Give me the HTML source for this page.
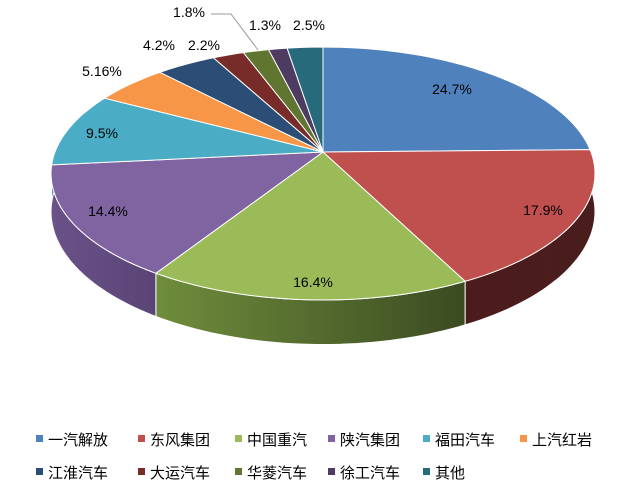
<!DOCTYPE html>
<html><head><meta charset="utf-8"><style>
html,body{margin:0;padding:0;background:#fff;width:643px;height:497px;overflow:hidden}
svg{display:block}
text{font-family:"Liberation Sans","Noto Sans CJK SC",sans-serif}
</style></head><body>
<svg id="s" width="643" height="497" viewBox="0 0 643 497" xmlns="http://www.w3.org/2000/svg">
<defs>
<linearGradient id="gg" x1="0" x2="1" y1="0" y2="0"><stop offset="0" stop-color="#6f8d3c"/><stop offset="1" stop-color="#3b4b21"/></linearGradient>
<linearGradient id="gp" x1="0" x2="1" y1="0" y2="0"><stop offset="0" stop-color="#6a5289"/><stop offset="1" stop-color="#5a4475"/></linearGradient>
<linearGradient id="gr" x1="0" x2="1" y1="0" y2="0"><stop offset="0" stop-color="#4c1c1c"/><stop offset="1" stop-color="#4a1d1d"/></linearGradient>
</defs>
<g id="pie"></g>
<g font-size="14" fill="#000" text-anchor="middle">
<text x="452" y="94">24.7%</text>
<text x="543" y="215">17.9%</text>
<text x="313" y="287">16.4%</text>
<text x="108" y="216">14.4%</text>
<text x="102" y="138">9.5%</text>
<text x="102" y="76">5.16%</text>
<text x="159" y="50">4.2%</text>
<text x="204" y="50">2.2%</text>
<text x="189" y="17">1.8%</text>
<text x="265" y="30">1.3%</text>
<text x="309" y="30">2.5%</text>
</g>
<polyline points="211,14 231,14 258,50" fill="none" stroke="#999" stroke-width="1"/>
<g font-size="15" fill="#000">
<rect x="36" y="435" width="7" height="7" fill="#4F81BD"/><text x="48" y="445">一汽解放</text>
<rect x="138" y="435" width="7" height="7" fill="#C0504D"/><text x="150" y="445">东风集团</text>
<rect x="235" y="435" width="7" height="7" fill="#9BBB59"/><text x="247" y="445">中国重汽</text>
<rect x="328" y="435" width="7" height="7" fill="#8064A2"/><text x="340" y="445">陕汽集团</text>
<rect x="423" y="435" width="7" height="7" fill="#4BACC6"/><text x="435" y="445">福田汽车</text>
<rect x="520" y="435" width="7" height="7" fill="#F79646"/><text x="532" y="445">上汽红岩</text>
<rect x="36" y="468" width="7" height="7" fill="#2C4D75"/><text x="48" y="478">江淮汽车</text>
<rect x="138" y="468" width="7" height="7" fill="#772C2A"/><text x="150" y="478">大运汽车</text>
<rect x="235" y="468" width="7" height="7" fill="#5F7530"/><text x="247" y="478">华菱汽车</text>
<rect x="328" y="468" width="7" height="7" fill="#4D3B62"/><text x="340" y="478">徐工汽车</text>
<rect x="423" y="468" width="7" height="7" fill="#276A7C"/><text x="435" y="478">其他</text>
</g>
</svg>
<script>
var vals=[24.7,17.9,16.4,14.4,9.5,5.16,4.2,2.2,1.8,1.3,2.5];
var cols=["#4F81BD","#C0504D","#9BBB59","#8064A2","#4BACC6","#F79646","#2C4D75","#772C2A","#5F7530","#4D3B62","#276A7C"];
var sides=["#3a5f8c","url(#gr)","url(#gg)","url(#gp)","#37808f","#b56e34","#203955","#571f1e","#465623","#382b48","#1c4e5b"];
var cx=323,cy=152,a=122.8,b=268,k=0.17,h=37;
var tot=0;vals.forEach(function(v){tot+=v});
function P(t,dz){var X=Math.sin(t),Z=-Math.cos(t),d=1-k*Z;return [cx+b*X/d,cy+a*Z/d+(dz?h/d:0)];}
var g=document.getElementById('pie'),NS="http://www.w3.org/2000/svg";
function path(d,f){var p=document.createElementNS(NS,'path');p.setAttribute('d',d);p.setAttribute('fill',f);p.setAttribute('stroke','#fff');p.setAttribute('stroke-width','1');p.setAttribute('stroke-linejoin','round');g.appendChild(p);}
var ang=[],s=0;vals.forEach(function(v){var t0=s/tot*2*Math.PI;s+=v;ang.push([t0,s/tot*2*Math.PI]);});
var lo=Math.PI*0.47,hi=Math.PI*1.53;
ang.forEach(function(r,i){var t0=Math.max(r[0],lo),t1=Math.min(r[1],hi);if(t1<=t0)return;
var n=40,d="",i2;for(i2=0;i2<=n;i2++){var p=P(t0+(t1-t0)*i2/n,0);d+=(i2?"L":"M")+p[0].toFixed(1)+","+p[1].toFixed(1);}
for(i2=n;i2>=0;i2--){var p=P(t0+(t1-t0)*i2/n,1);d+="L"+p[0].toFixed(1)+","+p[1].toFixed(1);}
path(d+"Z",sides[i]);});
ang.forEach(function(r,i){var n=Math.max(4,Math.ceil((r[1]-r[0])*40)),d="M"+cx+","+cy;
for(var j=0;j<=n;j++){var p=P(r[0]+(r[1]-r[0])*j/n,0);d+="L"+p[0].toFixed(1)+","+p[1].toFixed(1);}
path(d+"Z",cols[i]);});
</script>
</body></html>
